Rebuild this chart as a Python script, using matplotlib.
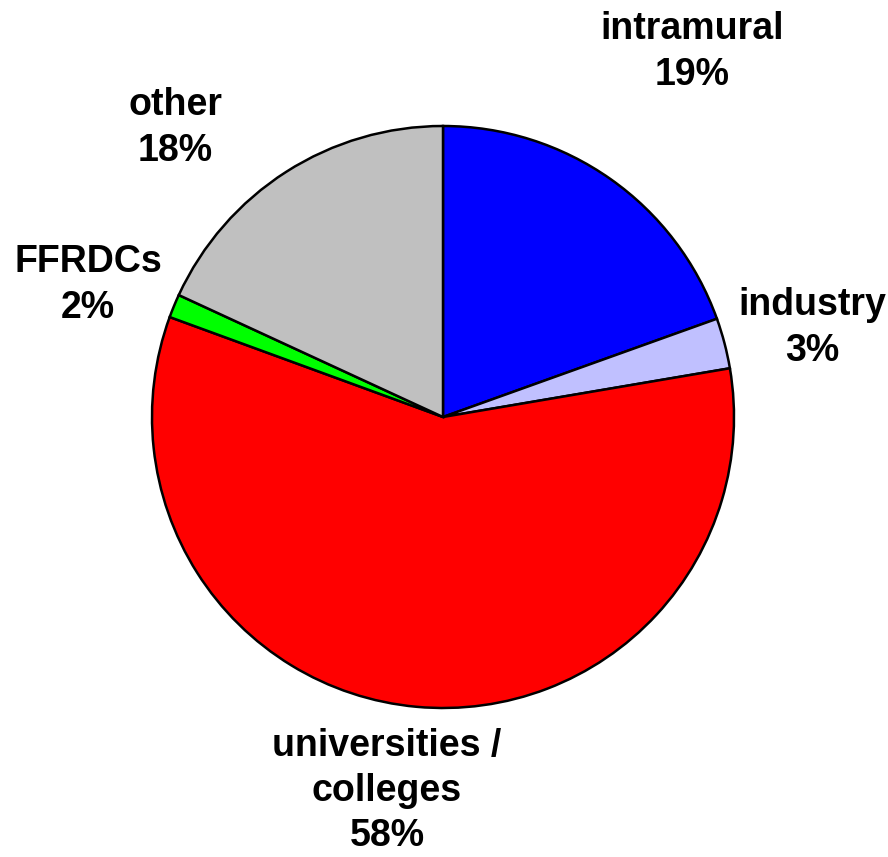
import matplotlib
matplotlib.use("Agg")
import matplotlib.pyplot as plt

categories = ["intramural", "industry", "universities /\ncolleges", "FFRDCs", "other"]
values = [19.5, 2.8, 58.2, 1.3, 18.1]
pct_labels = ["19%", "3%", "58%", "2%", "18%"]
colors = ["#0000FF", "#C0C0FF", "#FF0000", "#00FF00", "#C0C0C0"]

W, H = 888, 857
fig = plt.figure(figsize=(W / 100, H / 100), dpi=100)
ax = fig.add_axes([0, 0, 1, 1])

cx, cy, r = 443, H - 417, 291
ax.pie(values, colors=colors, startangle=90, counterclock=False,
       center=(cx, cy), radius=r, frame=True,
       wedgeprops=dict(edgecolor="black", linewidth=1.8))
ax.set_xlim(0, W)
ax.set_ylim(0, H)
ax.set_aspect("equal")
ax.axis("off")

label_pos = [(692, 52), (812, 328), (387, 791), (88, 285), (175, 128)]
for cat, pct, (x, y) in zip(categories, pct_labels, label_pos):
    ax.text(x, H - y, f"{cat}\n{pct}", ha="center", va="center",
            fontsize=27, fontweight="bold", family="Liberation Sans",
            linespacing=1.33)

fig.savefig("out.png", dpi=100)
